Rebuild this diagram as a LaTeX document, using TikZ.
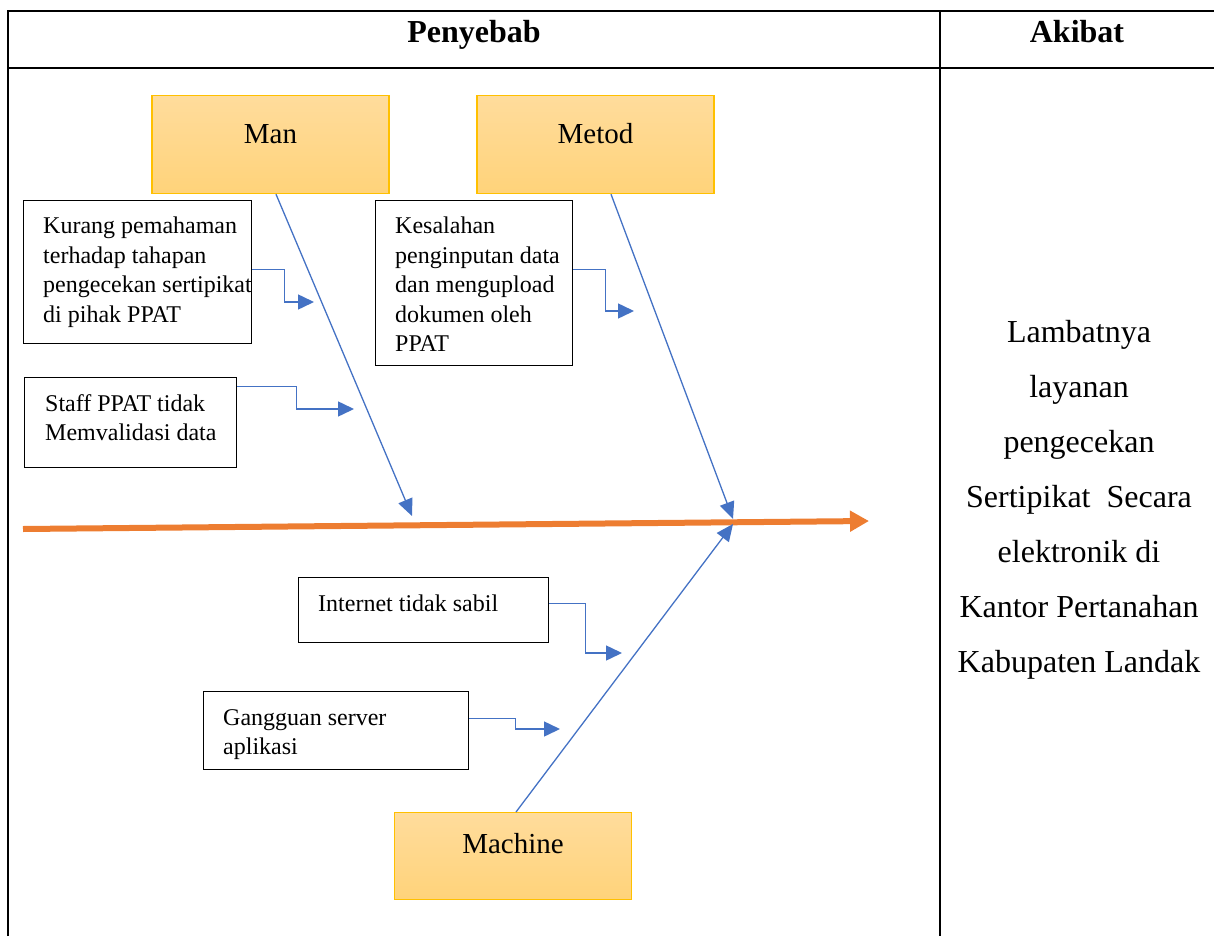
\documentclass[tikz,border=0pt]{standalone}
\usepackage{fontspec}
\setmainfont{Liberation Serif}
\usetikzlibrary{arrows.meta}
\definecolor{bonecol}{HTML}{4472C4}
\definecolor{spinecol}{HTML}{ED7D31}
\definecolor{catborder}{HTML}{FFC000}
\definecolor{cattop}{HTML}{FFDC9C}
\definecolor{catbot}{HTML}{FFD37A}
\begin{document}
\begin{tikzpicture}[x=1pt,y=-1pt,
 catbox/.style={draw=catborder, line width=1.2pt, top color=cattop, bottom color=catbot, minimum width=237pt, inner sep=0pt, font=\fontsize{29}{34}\selectfont},
 causebox/.style={draw=black, line width=1.4pt, inner sep=0pt, anchor=north west},
 causetext/.style={anchor=north west, inner sep=0pt, align=left, font=\fontsize{24}{29.5}\selectfont},
 bone/.style={draw=bonecol, line width=1.3pt, -{Triangle[length=17pt,width=15pt]}},
 elbow/.style={draw=bonecol, line width=1.5pt, -{Triangle[length=16pt,width=15pt]}},
 spine/.style={draw=spinecol, line width=6pt, -{Triangle[length=19pt,width=20pt]}},
 headtext/.style={anchor=base, font=\bfseries\fontsize{32}{38}\selectfont},
 effecttext/.style={anchor=north, inner sep=0pt, align=center, font=\fontsize{32}{55}\selectfont},
]
\useasboundingbox (0,0) rectangle (1214,936);
% table
\draw[line width=2.2pt] (8,936) -- (8,11) -- (1214,11);
\draw[line width=2.2pt] (7,68) -- (1214,68);
\draw[line width=1.8pt] (940,11) -- (940,936);
\node[headtext] (hp) at (474,43) {Penyebab};
\node[headtext] (ha) at (1077,43) {Akibat};
% categories
\node[catbox, anchor=north, text height=48pt, text depth=50pt] (man) at (270.5,95) {Man};
\node[catbox, anchor=north, text height=48pt, text depth=50pt] (metod) at (595.5,95) {Metod};
\node[catbox, anchor=north, text height=41pt, text depth=46pt] (machine) at (513,812) {Machine};
% cause boxes
\node[causebox, minimum width=228pt, minimum height=143pt] (b1) at (23,200) {};
\node[causebox, minimum width=212pt, minimum height=90pt] (b2) at (24,377) {};
\node[causebox, minimum width=197pt, minimum height=165pt] (b3) at (375,200) {};
\node[causebox, minimum width=250pt, minimum height=65pt] (b4) at (298,577) {};
\node[causebox, minimum width=265pt, minimum height=78pt] (b5) at (203,691) {};
\node[causetext] (t1) at (43,217) {Kurang pemahaman\\terhadap tahapan\\pengecekan sertipikat\\di pihak PPAT};
\node[causetext] (t2) at (45,394) {Staff PPAT tidak\\Memvalidasi data};
\node[causetext] (t3) at (395,217) {Kesalahan\\penginputan data\\dan mengupload\\dokumen oleh\\PPAT};
\node[causetext] (t4) at (318,595) {Internet tidak sabil};
\node[causetext] (t5) at (223,709) {Gangguan server\\aplikasi};
% spine
\coordinate (s0) at (23,529);
\coordinate (s1) at (869,521);
\draw[spine] (s0) -- (s1);
% bones
\coordinate (m1) at (412,516);
\coordinate (m2) at (733,519);
\coordinate (m3) at (733,524);
\draw[bone] ([xshift=5.5pt]man.south) -- (m1);
\draw[bone] ([xshift=15.5pt]metod.south) -- (m2);
\draw[bone] ([xshift=3pt]machine.north) -- (m3);
% elbows
\coordinate (e1) at (314,302);
\coordinate (e2) at (354,409);
\coordinate (e3) at (634,311);
\coordinate (e4) at (622,653);
\coordinate (e5) at (560,729);
\draw[elbow] ([yshift=2.5pt]b1.east) -- ++(32,0) |- (e1);
\draw[elbow] ([yshift=36pt]b2.east) -- ++(59,0) |- (e2);
\draw[elbow] ([yshift=13.5pt]b3.east) -- ++(32,0) |- (e3);
\draw[elbow] ([yshift=6.5pt]b4.east) -- ++(36,0) |- (e4);
\draw[elbow] ([yshift=12pt]b5.east) -- ++(46,0) |- (e5);
% effect
\node[effecttext] (eff) at (1079,320) {Lambatnya\\layanan\\pengecekan\\Sertipikat~ Secara\\elektronik di\\Kantor Pertanahan\\Kabupaten Landak};
\end{tikzpicture}
\end{document}
